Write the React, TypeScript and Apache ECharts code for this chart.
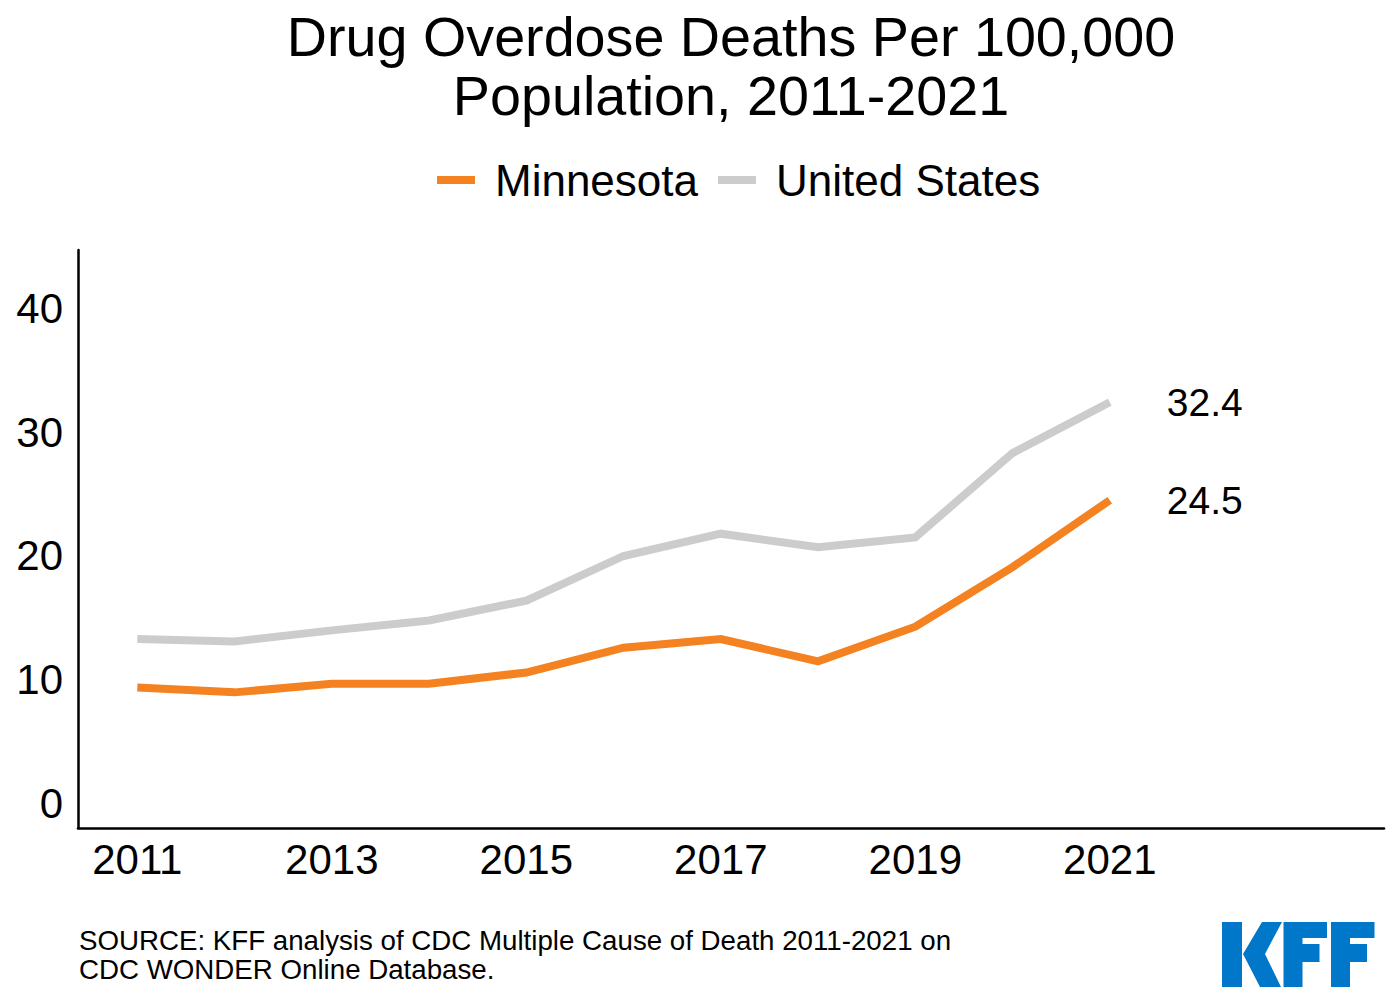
import React, { useEffect, useRef } from "react";
import * as echarts from "echarts";

const years = [2011, 2012, 2013, 2014, 2015, 2016, 2017, 2018, 2019, 2020, 2021];
const minnesota = [9.4, 9.0, 9.7, 9.7, 10.6, 12.6, 13.3, 11.5, 14.3, 19.1, 24.5];
const unitedStates = [13.3, 13.1, 14.0, 14.8, 16.4, 20.0, 21.8, 20.7, 21.5, 28.3, 32.4];
const xTickLabels = [2011, 2013, 2015, 2017, 2019, 2021];
const yTickLabels = [0, 10, 20, 30, 40];
const seriesNames = ["Minnesota", "United States"];
const titleLines = ["Drug Overdose Deaths Per 100,000", "Population, 2011-2021"];
const sourceLines = [
  "SOURCE: KFF analysis of CDC Multiple Cause of Death 2011-2021 on",
  "CDC WONDER Online Database.",
];

const FONT = "'Liberation Sans', Arial, Helvetica, sans-serif";
const ORANGE = "#F58220";
const GREY = "#CCCCCC";
const BLUE = "#0077C8";

function fPoly(x0: number) {
  return [
    [x0, 922], [x0 + 43.5, 922], [x0 + 43.5, 938], [x0 + 19, 938], [x0 + 19, 944],
    [x0 + 36, 944], [x0 + 36, 962], [x0 + 19, 962], [x0 + 19, 987], [x0, 987],
  ];
}

export default function App() {
  const ref = useRef<HTMLDivElement>(null);
  useEffect(() => {
    if (!ref.current) return;
    const chart = echarts.init(ref.current, undefined, { renderer: "svg" });
    const mk = (vals: number[]) => years.map((y, i) => [y, vals[i]]);
    const endLabel = {
      show: true,
      distance: 57,
      color: "#000",
      fontSize: 39,
      fontFamily: FONT,
      formatter: (p: any) => Number(p.value[1]).toFixed(1),
    };
    chart.setOption({
      animation: false,
      backgroundColor: "#fff",
      textStyle: { fontFamily: FONT },
      grid: { left: 78, right: 16, top: 250, bottom: 172, containLabel: false },
      legend: {
        left: 437,
        top: 158,
        padding: 0,
        icon: "rect",
        itemWidth: 38,
        itemHeight: 8,
        itemGap: 20,
        data: seriesNames,
        textStyle: {
          fontSize: 44,
          fontFamily: FONT,
          color: "#000",
          lineHeight: 44,
          padding: [0, 0, 0, 15],
        },
      },
      xAxis: {
        type: "value",
        min: 2010.39,
        max: 2023.82,
        splitLine: { show: false },
        axisTick: { show: false },
        axisLine: { show: true, onZero: false, lineStyle: { color: "#000", width: 2.5 } },
        axisLabel: {
          customValues: xTickLabels,
          fontSize: 42,
          fontFamily: FONT,
          color: "#000",
          margin: 10,
          formatter: (v: number) => String(v),
        },
      },
      yAxis: {
        type: "value",
        min: -1.94,
        max: 44.68,
        splitLine: { show: false },
        axisTick: { show: false },
        axisLine: { show: true, onZero: false, lineStyle: { color: "#000", width: 2.5 } },
        axisLabel: {
          customValues: yTickLabels,
          fontSize: 42,
          fontFamily: FONT,
          color: "#000",
          margin: 15,
          formatter: (v: number) => String(v),
        },
      },
      series: [
        {
          name: seriesNames[0],
          type: "line",
          data: mk(minnesota),
          symbol: "none",
          color: ORANGE,
          itemStyle: { color: ORANGE },
          lineStyle: { color: ORANGE, width: 8, cap: "butt", join: "miter" },
          endLabel,
          z: 3,
        },
        {
          name: seriesNames[1],
          type: "line",
          data: mk(unitedStates),
          symbol: "none",
          color: GREY,
          itemStyle: { color: GREY },
          lineStyle: { color: GREY, width: 8, cap: "butt", join: "miter" },
          endLabel,
          z: 2,
        },
      ],
      graphic: [
        {
          type: "text",
          x: 731,
          y: 37,
          style: {
            text: titleLines[0],
            font: `55.7px ${FONT}`,
            fill: "#000",
            textAlign: "center",
            textVerticalAlign: "middle",
          },
        },
        {
          type: "text",
          x: 731,
          y: 96,
          style: {
            text: titleLines[1],
            font: `55.7px ${FONT}`,
            fill: "#000",
            textAlign: "center",
            textVerticalAlign: "middle",
          },
        },
        {
          type: "text",
          x: 79,
          y: 940,
          style: {
            text: sourceLines[0],
            font: `27.7px ${FONT}`,
            fill: "#000",
            textAlign: "left",
            textVerticalAlign: "middle",
          },
        },
        {
          type: "text",
          x: 79,
          y: 969,
          style: {
            text: sourceLines[1],
            font: `27.7px ${FONT}`,
            fill: "#000",
            textAlign: "left",
            textVerticalAlign: "middle",
          },
        },
        { type: "rect", shape: { x: 1222, y: 922, width: 20, height: 65 }, style: { fill: BLUE } },
        {
          type: "polygon",
          shape: { points: [[1243, 954], [1262, 922], [1282, 922], [1265, 954], [1281, 987], [1260, 987]] },
          style: { fill: BLUE },
        },
        { type: "polygon", shape: { points: fPoly(1283.5) }, style: { fill: BLUE } },
        { type: "polygon", shape: { points: fPoly(1331) }, style: { fill: BLUE } },
      ],
    });
    return () => chart.dispose();
  }, []);
  return <div ref={ref} style={{ width: 1400, height: 1000, margin: -8 }} />;
}
